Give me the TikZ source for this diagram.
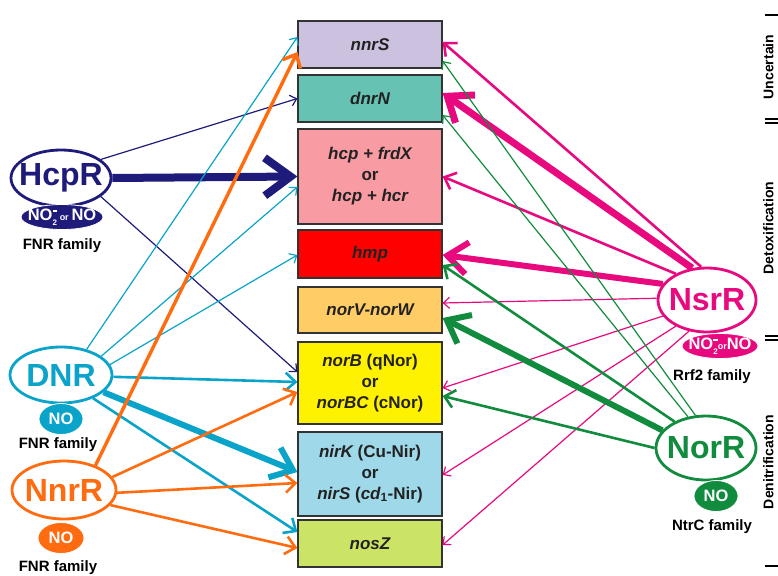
\documentclass[tikz,border=0pt]{standalone}
\usepackage{fontspec}
\setmainfont{Liberation Sans}
\usetikzlibrary{arrows.meta, shapes.geometric, calc}
\definecolor{hcpnavy}{HTML}{1E1B7B}
\definecolor{dnrcyan}{HTML}{0AA3C9}
\definecolor{nnrorange}{HTML}{FF6B0F}
\definecolor{nsrpink}{HTML}{E8097F}
\definecolor{norgreen}{HTML}{118C3E}
\definecolor{lavender}{HTML}{CCC1DF}
\definecolor{teal}{HTML}{66C2B3}
\definecolor{rose}{HTML}{F99BA3}
\definecolor{apricot}{HTML}{FFCC66}
\definecolor{skyblue}{HTML}{9ED8E9}
\definecolor{lime}{HTML}{CCE466}
\definecolor{ink}{HTML}{222222}

\newcommand{\nitrite}{NO\rlap{\raisebox{-0.55ex}{\fontsize{8}{8}\selectfont 2}}\raisebox{0.95ex}{\rule{4.5pt}{1.6pt}}}
\newcommand{\orsmall}{{\fontsize{9}{9}\selectfont or}}
\newcommand{\fixw}[1]{\makebox[0pt]{#1}}

\begin{document}
\begin{tikzpicture}[x=1pt, y=-1pt,
  gene/.style={
    draw=black!80, line width=1.2pt, fill=#1, minimum width=144pt,
    inner sep=0pt, align=center, text=ink,
    font=\fontsize{17}{21}\selectfont\bfseries
  },
  reg/.style={
    ellipse, draw=#1, line width=2.8pt, fill=white, text=#1,
    inner sep=0pt, font=\fontsize{32}{34}\selectfont\bfseries
  },
  sig/.style={
    ellipse, fill=#1, draw=white, line width=0.8pt, text=white,
    inner sep=0pt, font=\fontsize{16.5}{16.5}\selectfont\bfseries
  },
  fam/.style={font=\fontsize{15}{15}\selectfont\bfseries, text=black},
  arr/.style={#1, line width=1.2pt, -{Straight Barb[length=6pt, width=11pt]}},
  arrm/.style={#1, line width=2.6pt, -{Straight Barb[length=10pt, width=18pt]}},
  arrb/.style={#1, line width=6pt, -{Straight Barb[length=20pt, width=32pt]}},
  role/.style={rotate=90, anchor=north, inner sep=0pt,
    font=\fontsize{14}{14}\selectfont\bfseries},
]

\useasboundingbox (0,0) rectangle (778,575);

% =============================================
% Target genes (middle column)
% =============================================

\node[gene=lavender, minimum height=47pt] (nnrs) at (370,44.5) {\itshape nnrS};
\node[gene=teal, minimum height=47pt] (dnrn) at (370,98.5) {\itshape dnrN};
\node[gene=rose, minimum height=95pt] (hcp) at (370,176.5)
  {{\itshape hcp + frdX}\\or\\{\itshape hcp + hcr}};
\node[gene=red, minimum height=48pt] (hmp) at (370,254) {\itshape hmp};
\node[gene=apricot, minimum height=46pt] (norv) at (370,310) {\itshape norV-norW};
\node[gene=yellow, minimum height=82pt] (norb) at (370,383)
  {{\itshape norB} (qNor)\\or\\{\itshape norBC} (cNor)};
\node[gene=skyblue, minimum height=84pt] (nirk) at (370,474)
  {{\itshape nirK} (Cu-Nir)\\or\\{\itshape nirS} ({\itshape cd}\textsubscript{1}-Nir)};
\node[gene=lime, minimum height=47pt] (nosz) at (370,543.5) {\itshape nosZ};

% =============================================
% Regulators, left: HcpR -- DNR -- NnrR
% =============================================

\node[reg=hcpnavy, minimum width=100pt, minimum height=56pt] (hcpr) at (61,178) {\fixw{HcpR}};
\node[sig=hcpnavy, minimum width=82pt, minimum height=25pt] (hcpsig) at (62,217)
  {\fixw{\nitrite\,\orsmall\,NO}};
\node[fam] (hcpfam) at (62,246) {FNR family};

\node[reg=dnrcyan, minimum width=102pt, minimum height=56pt] (dnr) at (61,375) {\fixw{DNR}};
\node[sig=dnrcyan, minimum width=44pt, minimum height=31pt] (dnrsig) at (61,419) {\fixw{NO}};
\node[fam] (dnrfam) at (58,445) {FNR family};

\node[reg=nnrorange, minimum width=104pt, minimum height=58pt] (nnrr) at (64,490) {\fixw{NnrR}};
\node[sig=nnrorange, minimum width=46pt, minimum height=31pt] (nnrsig) at (61,538) {\fixw{NO}};
\node[fam] (nnrfam) at (58,568) {FNR family};

% =============================================
% Regulators, right: NsrR -- NorR
% =============================================

\node[reg=nsrpink, minimum width=98pt, minimum height=64pt] (nsrr) at (707,300) {\fixw{NsrR}};
\node[sig=nsrpink, minimum width=76pt, minimum height=25pt] (nsrsig) at (720,346)
  {\fixw{\nitrite\orsmall NO}};
\node[fam] (nsrfam) at (712,377) {Rrf2 family};

\node[reg=norgreen, minimum width=100pt, minimum height=64pt] (norr) at (706,448) {\fixw{NorR}};
\node[sig=norgreen, minimum width=44pt, minimum height=31pt] (norsig) at (716,496) {\fixw{NO}};
\node[fam] (norfam) at (712,527) {NtrC family};

% =============================================
% Arrows from the left
% =============================================

% HcpR
\draw[arr=hcpnavy] (hcpr.25) -- (dnrn.west);
\draw[hcpnavy, line width=8pt, -{Straight Barb[length=26pt, width=38pt]}] (hcpr.east) -- (hcp.west);
\draw[arr=hcpnavy] (hcpr.-25) -- ($(norb.west)+(0,-11)$);

% DNR
\draw[arr=dnrcyan] (dnr.45) -- ($(nnrs.west)+(0,-7.5)$);
\draw[arr=dnrcyan] (dnr.25) -- ($(hcp.west)+(0,10.5)$);
\draw[arr=dnrcyan] (dnr.12) -- ($(hmp.west)+(0,1)$);
\draw[arrm=dnrcyan] (dnr.-2) -- ($(norb.west)+(0,-1)$);
\draw[arrb=dnrcyan] (dnr.-22) -- ($(nirk.west)+(0,-2)$);
\draw[arrm=dnrcyan] (dnr.-36) -- ($(nosz.west)+(0,-11.5)$);

% NnrR
\draw[nnrorange, line width=3.4pt, -{Straight Barb[length=11pt, width=20pt]}] (nnrr.38) -- ($(nnrs.west)+(0,7.5)$);
\draw[arrm=nnrorange] (nnrr.15) -- ($(norb.west)+(0,9)$);
\draw[arrm=nnrorange] (nnrr.-3) -- ($(nirk.west)+(0,9)$);
\draw[arrm=nnrorange] (nnrr.-18) -- ($(nosz.west)+(0,4.5)$);

% =============================================
% Arrows from the right
% =============================================

% NsrR
\draw[arrm=nsrpink] (nsrr.100) -- ($(nnrs.east)+(0,-2.5)$);
\draw[nsrpink, line width=7pt, -{Straight Barb[length=22pt, width=34pt]}] (nsrr.115) -- ($(dnrn.east)+(0,-5.5)$);
\draw[arrm=nsrpink] (nsrr.140) -- (hcp.east);
\draw[arrb=nsrpink] (nsrr.160) -- ($(hmp.east)+(0,1)$);
\draw[arr=nsrpink] (nsrr.178) -- ($(norv.east)+(0,-7)$);
\draw[arr=nsrpink] (nsrr.200) -- ($(norb.east)+(0,5)$);
\draw[arr=nsrpink] (nsrr.220) -- ($(nirk.east)+(0,1)$);
\draw[arr=nsrpink] (nsrr.240) -- ($(nosz.east)+(0,1.5)$);

% NorR
\draw[arr=norgreen] (norr.108) -- ($(nnrs.east)+(0,16.5)$);
\draw[arr=norgreen] (norr.120) -- ($(dnrn.east)+(0,16.5)$);
\draw[arrm=norgreen] (norr.140) -- ($(hmp.east)+(0,11)$);
\draw[arrb=norgreen] (norr.158) -- ($(norv.east)+(0,8)$);
\draw[arrm=norgreen] (norr.180) -- ($(norb.east)+(0,13)$);

% =============================================
% Role labels at the right edge
% =============================================
\node[role] (uncert) at (763,67) {Uncertain};
\node[role] (detox) at (763,228) {Detoxification};
\node[role] (denit) at (763,462) {Denitrification};
\draw[line width=1.2pt] (765,15) -- (778,15);
\draw[line width=1.2pt] (765,119) -- (778,119) (765,123) -- (778,123);
\draw[line width=1.2pt] (765,336) -- (778,336) (765,340) -- (778,340);
\draw[line width=1.2pt] (765,566) -- (778,566);

\end{tikzpicture}
\end{document}
